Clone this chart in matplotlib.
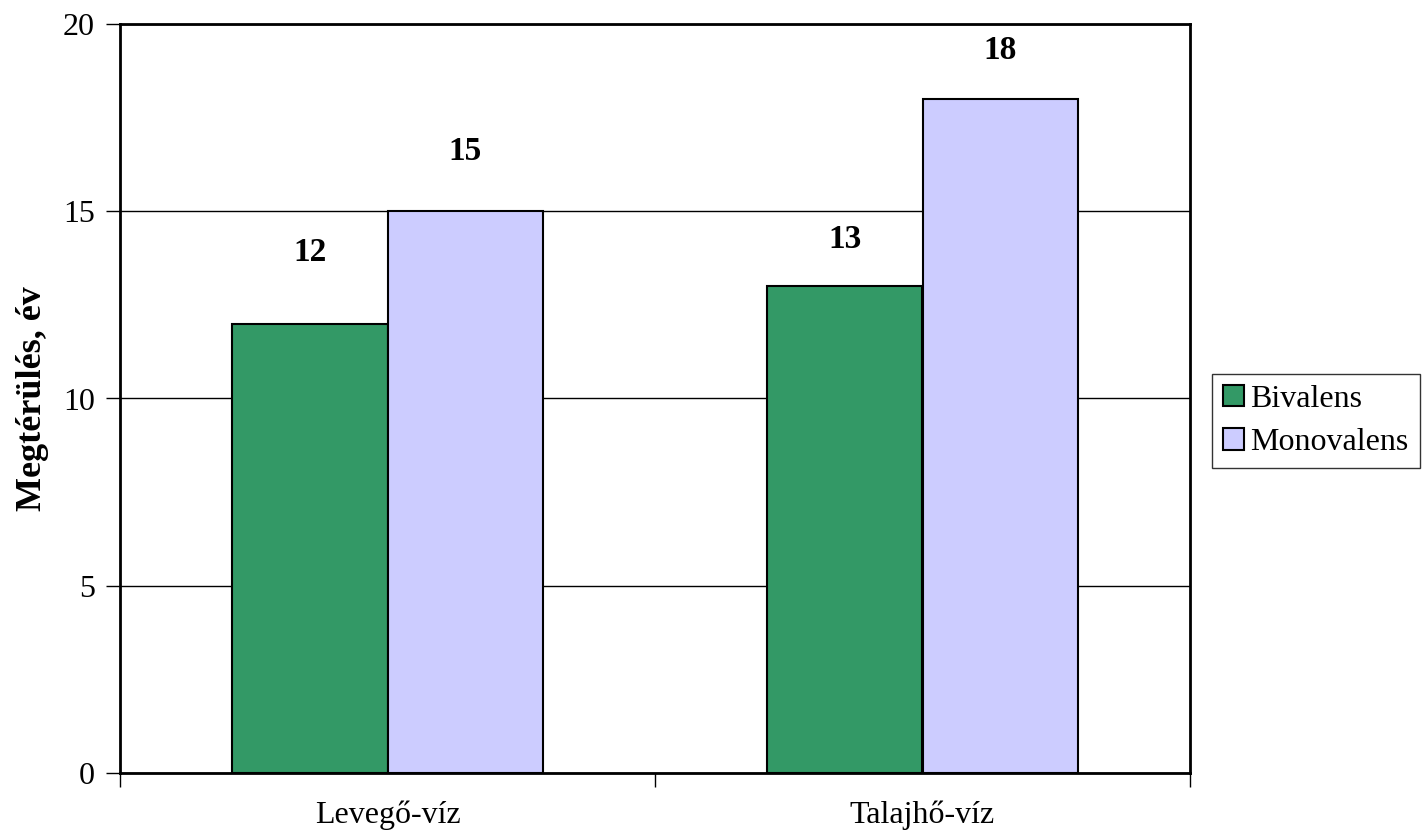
import matplotlib
matplotlib.use("Agg")
import matplotlib.pyplot as plt
import numpy as np

categories = ["Levegő-víz", "Talajhő-víz"]
bivalens = [12, 13]
monovalens = [15, 18]
series_names = ["Bivalens", "Monovalens"]

plt.rcParams['font.family'] = ['Liberation Serif', 'DejaVu Serif']

fig = plt.figure(figsize=(14.22, 8.38), dpi=100)
ax = fig.add_axes([120 / 1422, 1 - 773 / 838, 1070 / 1422, 749 / 838])

x = np.arange(len(categories))
w = 0.29
b1 = ax.bar(x - w / 2, bivalens, w, color='#339966', edgecolor='black', linewidth=1.5,
            label=series_names[0], zorder=3)
b2 = ax.bar(x + w / 2, monovalens, w, color='#CCCCFF', edgecolor='black', linewidth=1.5,
            label=series_names[1], zorder=3)

# excel puts the labels a bit unevenly above the bars
offsets = {0: [1.9, 1.25], 1: [1.6, 1.3]}
for k, (bars, vals) in enumerate([(b1, bivalens), (b2, monovalens)]):
    for i, (r, v) in enumerate(zip(bars, vals)):
        ax.text(r.get_x() + r.get_width() / 2, v + offsets[k][i], str(v), ha='center',
                va='center', fontsize=24, fontweight='bold')

ax.set_xlim(-0.5, 1.5)
ax.set_ylim(0, 20)
ax.set_yticks([0, 5, 10, 15, 20])
ax.yaxis.grid(True, color='black', linewidth=1, zorder=0)
ax.set_axisbelow(True)

ax.set_xticks([-0.5, 0.5, 1.5])
ax.set_xticklabels([])
ax.set_xticks(x, minor=True)
ax.set_xticklabels(categories, minor=True)
ax.tick_params(axis='x', which='major', length=10, width=1, color='black')
ax.tick_params(axis='x', which='minor', length=0, pad=20, labelsize=23)
ax.tick_params(axis='y', length=10, width=1, labelsize=23, pad=8)

for s in ax.spines.values():
    s.set_linewidth(2)
    s.set_color('black')

ax.set_ylabel('Megtérülés, év', fontsize=26, fontweight='bold', labelpad=10)

leg = ax.legend(loc='center left', bbox_to_anchor=((1212 - 120) / 1070, (773 - 421) / 749),
                fontsize=23, frameon=True, fancybox=False, edgecolor='black',
                handlelength=0.65, handleheight=0.65, handletextpad=0.2, borderpad=0.35,
                labelspacing=0.45, borderaxespad=0)
leg.get_frame().set_linewidth(1)

fig.savefig('out.png', dpi=100)
